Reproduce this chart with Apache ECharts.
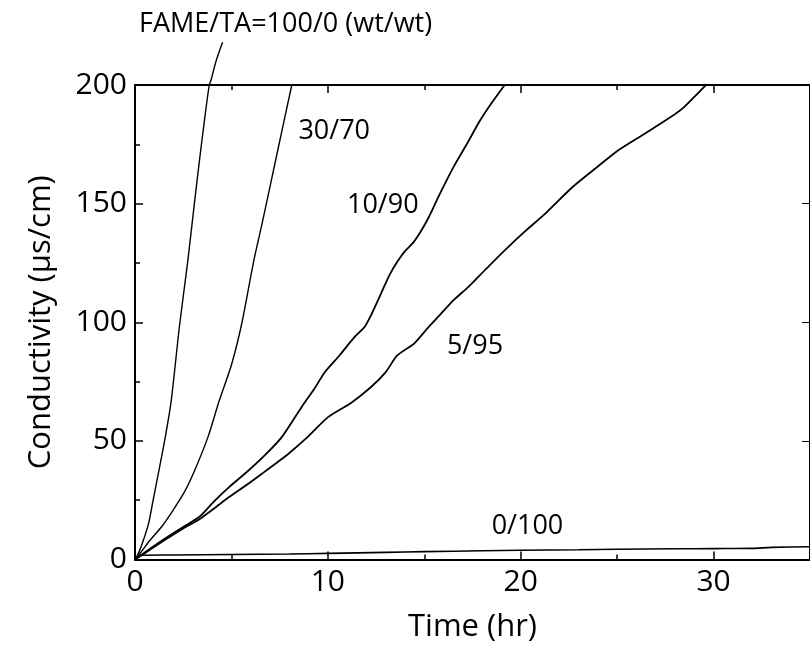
<!DOCTYPE html>
<html>
<head>
<meta charset="utf-8">
<script src="https://cdn.jsdelivr.net/npm/echarts@6/dist/echarts.min.js"></script>
<style>
html,body{margin:0;padding:0;background:#fff;}
#chart{width:810px;height:657px;}
</style>
</head>
<body>
<div id="chart"></div>
<script>
// Time (hr), conductivity (µs/cm)
var s100_0 = [[0,0],[0.2,3],[0.43,8],[0.7,15],[0.94,25],[1.3,40],[1.6,53],[1.88,67],[2.3,98],[2.74,126],[3.05,148],[3.34,168],[3.6,185],[3.85,200],[3.94,202],[4.2,210],[4.54,218]];
var s30_70 = [[0,0],[0.3,3],[0.77,8],[1.4,14],[1.97,20.7],[2.6,29],[3.17,39],[3.8,52],[4.37,67],[5.0,82],[5.55,100],[6.16,126],[6.6,142],[7.1,161],[7.6,180],[8.13,200]];
var s10_90 = [[0,0],[0.6,3.5],[1.5,8.5],[2.48,13.6],[3.34,18],[4.1,24.5],[4.88,30.5],[5.9,37.6],[6.8,44.5],[7.62,51.7],[8.65,64.4],[9.3,72],[9.85,79],[10.6,86],[11.39,93.8],[11.9,98],[12.3,104],[12.75,112],[13.2,120],[13.6,125.5],[14.0,130],[14.47,134],[15.15,143],[15.8,154],[16.52,165.5],[17.2,175],[17.89,185],[18.5,192.5],[19.17,200]];
var s5_95 = [[0,0],[0.6,3.2],[1.5,8],[2.48,13],[3.34,17],[4.1,21.5],[4.88,26.3],[5.8,31.5],[6.59,36.2],[7.3,40.5],[7.96,44.6],[9.0,52],[10.01,60],[11.2,66],[12.24,72.7],[13.0,79],[13.6,86],[14.47,91],[15.15,97.3],[15.8,103],[16.52,109.3],[17.3,115],[18.23,122.7],[19.09,129.7],[20.29,138.8],[21.3,146],[22.69,157],[23.9,165],[25.08,172.6],[26.45,179.6],[27.5,185],[28.3,189.5],[29.0,195],[29.6,200]];
var s0_100 = [[0,0],[0.3,1.8],[2,1.9],[5,2.1],[8,2.3],[10,2.6],[13,3.0],[15,3.3],[18,3.7],[20,3.9],[23,4.1],[25,4.3],[28,4.5],[30,4.6],[32,4.7],[33,5.1],[35,5.4]];

var labelTexts = ['FAME/TA=100/0 (wt/wt)','30/70','10/90','5/95','0/100'];
var labelX = [7.81, 10.33, 12.85, 17.63, 20.35];
var labelY = [225.7, 180.6, 149.4, 90.0, 14.1];

var xTicks = [0,10,20,30];
var yTicks = [0,50,100,150,200];

var FONT = '"Open Sans", "DejaVu Sans", sans-serif';
var chart = echarts.init(document.getElementById('chart'), null, {renderer:'canvas'});

function lineSeries(name, data, w){
  return {name:name, type:'line', data:data, symbol:'none', smooth:0.25, clip:false,
    lineStyle:{color:'#000', width:w}, animation:false, z:3};
}

var labelData = labelTexts.map(function(t,i){ return [labelX[i], labelY[i], t]; });

var option = {
  backgroundColor:'#fff',
  animation:false,
  grid:{left:135, top:85, width:681, height:474.5, containLabel:false},
  xAxis:[{
    type:'value', min:0, max:35, interval:10, position:'bottom',
    name:'Time (hr)', nameLocation:'middle', nameGap:52,
    nameTextStyle:{fontFamily:FONT, fontSize:31, color:'#000'},
    axisLine:{show:true, onZero:false, lineStyle:{color:'#000', width:2}},
    axisTick:{show:true, inside:true, length:8, lineStyle:{color:'#000', width:1.5}},
    minorTick:{show:true, splitNumber:2, length:5, lineStyle:{color:'#000', width:1.5}},
    axisLabel:{fontFamily:FONT, fontSize:30, color:'#000', margin:8, showMaxLabel:false,
      formatter:function(v){ return xTicks.indexOf(v) >= 0 ? String(v) : ''; }},
    splitLine:{show:false}
  },{
    type:'value', min:0, max:35, interval:10, position:'top',
    axisLine:{show:true, onZero:false, lineStyle:{color:'#000', width:2}},
    axisTick:{show:true, inside:true, length:8, lineStyle:{color:'#000', width:1.5}},
    minorTick:{show:true, splitNumber:2, length:5, lineStyle:{color:'#000', width:1.5}},
    axisLabel:{show:false}, splitLine:{show:false}
  }],
  yAxis:[{
    type:'value', min:0, max:200, interval:50, position:'left',
    name:'Conductivity (µs/cm)', nameLocation:'middle', nameGap:78,
    nameTextStyle:{fontFamily:FONT, fontSize:31, color:'#000'},
    axisLine:{show:true, onZero:false, lineStyle:{color:'#000', width:2}},
    axisTick:{show:true, inside:true, length:8, lineStyle:{color:'#000', width:1.5}},
    minorTick:{show:true, splitNumber:2, length:5, lineStyle:{color:'#000', width:1.5}},
    axisLabel:{fontFamily:FONT, fontSize:30, color:'#000', margin:8,
      formatter:function(v){ return yTicks.indexOf(v) >= 0 ? String(v) : ''; }},
    splitLine:{show:false}
  },{
    type:'value', min:0, max:200, interval:50, position:'right',
    axisLine:{show:true, onZero:false, lineStyle:{color:'#000', width:2}},
    axisTick:{show:true, inside:true, length:8},
    axisLabel:{show:false}, splitLine:{show:false}
  }],
  series:[
    lineSeries('100/0', s100_0, 1.4),
    lineSeries('30/70', s30_70, 1.4),
    lineSeries('10/90', s10_90, 1.8),
    lineSeries('5/95', s5_95, 1.8),
    lineSeries('0/100', s0_100, 1.6),
    {
      type:'scatter', data:labelData, symbolSize:0, clip:false, silent:true, z:5,
      itemStyle:{opacity:1},
      label:{show:true, position:'inside', color:'#000', fontFamily:FONT, fontSize:27,
        formatter:function(p){ return p.data[2]; }}
    }
  ]
};
chart.setOption(option);
</script>
</body>
</html>
